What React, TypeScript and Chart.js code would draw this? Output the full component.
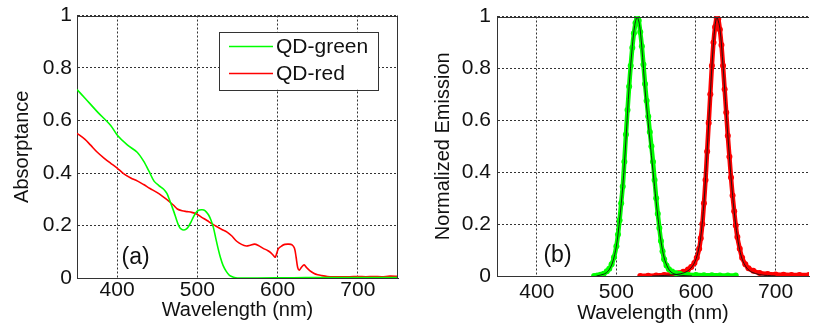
import React, { useEffect, useRef } from "react";
import { Chart, registerables } from "chart.js";

Chart.register(...registerables);

const FONT = "'Liberation Sans', Arial, Helvetica, sans-serif";

// ---------- Panel (a): absorptance ----------
const absGreenWavelength = [350, 360, 376, 392, 400, 413, 425, 433, 440, 446, 452, 458, 462, 465, 468, 471, 474, 477, 480, 483, 486, 489, 492, 495, 498, 501, 505, 508, 511, 514, 517, 520, 523, 526, 529, 532, 536, 540, 545, 550, 575, 620, 650, 700, 750];
const absGreenValue = [0.718, 0.685, 0.631, 0.581, 0.545, 0.506, 0.479, 0.445, 0.405, 0.369, 0.352, 0.338, 0.322, 0.300, 0.275, 0.250, 0.222, 0.198, 0.186, 0.183, 0.186, 0.196, 0.213, 0.232, 0.248, 0.257, 0.260, 0.259, 0.252, 0.240, 0.220, 0.192, 0.150, 0.110, 0.075, 0.048, 0.025, 0.010, 0.003, 0.000, 0.000, 0.001, 0.002, 0.002, 0.002];

const absRedWavelength = [350, 360, 367, 375, 384, 392, 400, 408, 417, 425, 433, 441, 450, 457, 464, 470, 475, 481, 487, 493, 499, 505, 512, 518, 524, 530, 537, 543, 549, 555, 561, 566, 571, 576, 582, 588, 592, 595, 597, 599, 601, 605, 609, 614, 618, 621, 623, 625, 627, 630, 633, 636, 640, 645, 650, 655, 662, 670, 680, 690, 700, 710, 720, 730, 740, 750];
const absRedValue = [0.551, 0.528, 0.506, 0.480, 0.456, 0.437, 0.419, 0.398, 0.381, 0.370, 0.356, 0.341, 0.325, 0.310, 0.294, 0.278, 0.263, 0.256, 0.253, 0.250, 0.244, 0.232, 0.219, 0.207, 0.196, 0.186, 0.175, 0.160, 0.140, 0.128, 0.122, 0.125, 0.129, 0.124, 0.113, 0.104, 0.095, 0.085, 0.079, 0.095, 0.112, 0.122, 0.128, 0.129, 0.126, 0.113, 0.080, 0.040, 0.030, 0.042, 0.050, 0.040, 0.028, 0.018, 0.012, 0.009, 0.006, 0.005, 0.005, 0.005, 0.006, 0.005, 0.006, 0.005, 0.007, 0.006];

// ---------- Panel (b): normalized emission ----------
const emGreenWavelength = [472, 476, 480, 484, 488, 491, 494, 497, 500, 502, 504, 506, 508, 510, 512, 514, 516, 518, 520, 522, 524, 526, 528, 530, 532, 534, 536, 538, 540, 542, 544, 546, 548, 550, 552, 554, 556, 558, 560, 563, 566, 570, 575, 580, 590, 600, 610, 620, 630, 640, 650];
const emGreenValue = [0.000, 0.002, 0.005, 0.009, 0.018, 0.028, 0.045, 0.072, 0.115, 0.160, 0.215, 0.280, 0.345, 0.440, 0.545, 0.640, 0.730, 0.810, 0.880, 0.935, 0.975, 0.998, 0.985, 0.940, 0.885, 0.815, 0.740, 0.675, 0.615, 0.555, 0.500, 0.440, 0.370, 0.300, 0.240, 0.185, 0.135, 0.095, 0.065, 0.040, 0.026, 0.017, 0.011, 0.008, 0.005, 0.004, 0.003, 0.003, 0.002, 0.002, 0.002];

const emRedWavelength = [530, 540, 550, 560, 570, 578, 584, 590, 594, 598, 601, 604, 606, 608, 610, 612, 614, 616, 618, 620, 622, 624, 626, 628, 630, 632, 634, 636, 638, 640, 642, 644, 646, 648, 650, 652, 655, 658, 662, 666, 672, 680, 690, 700, 710, 720, 730, 742];
const emRedValue = [0.000, 0.001, 0.002, 0.004, 0.007, 0.011, 0.016, 0.025, 0.035, 0.050, 0.070, 0.105, 0.145, 0.200, 0.280, 0.370, 0.480, 0.590, 0.700, 0.810, 0.900, 0.960, 0.995, 0.990, 0.950, 0.890, 0.810, 0.720, 0.630, 0.540, 0.460, 0.380, 0.310, 0.250, 0.195, 0.150, 0.105, 0.070, 0.045, 0.030, 0.020, 0.012, 0.008, 0.006, 0.005, 0.004, 0.004, 0.004];

const fitGreenWavelength = [475, 485, 490, 495, 500, 504, 508, 512, 516, 520, 523, 526, 529, 532, 536, 540, 544, 548, 552, 556, 560, 565, 570, 580, 595];
const fitGreenValue = [0.000, 0.008, 0.020, 0.050, 0.115, 0.215, 0.345, 0.525, 0.730, 0.885, 0.965, 0.998, 0.970, 0.880, 0.720, 0.590, 0.465, 0.345, 0.230, 0.135, 0.070, 0.030, 0.012, 0.003, 0.000];

const fitRedWavelength = [545, 560, 575, 585, 592, 598, 602, 606, 610, 614, 618, 622, 626, 630, 634, 638, 642, 646, 650, 654, 658, 664, 670, 680, 690, 700];
const fitRedValue = [0.000, 0.002, 0.006, 0.012, 0.025, 0.050, 0.085, 0.150, 0.280, 0.480, 0.700, 0.900, 0.998, 0.955, 0.810, 0.630, 0.460, 0.310, 0.195, 0.115, 0.065, 0.030, 0.015, 0.005, 0.002, 0.000];

// ---------- axes & labels ----------
const xTickValues = [400, 500, 600, 700];
const yTickValues = [0, 0.2, 0.4, 0.6, 0.8, 1];
const seriesNames = ["QD-green", "QD-red"];
const xTitle = "Wavelength (nm)";
const yTitleA = "Absorptance";
const yTitleB = "Normalized Emission";
const panelLabels = ["(a)", "(b)"];

const GREEN = "#00ff00";
const RED = "#ff0000";
const H = 329;

const pts = (xs: number[], ys: number[]) => xs.map((x, i) => ({ x, y: ys[i] }));

const decor = {
  id: "decor",
  afterDraw(chart: any, _args: any, opts: any) {
    const { ctx, chartArea: a } = chart;
    ctx.save();
    ctx.strokeStyle = "#333";
    ctx.lineWidth = 1;
    ctx.beginPath();
    ctx.moveTo(a.left, Math.round(a.top) + 0.5);
    ctx.lineTo(a.right, Math.round(a.top) + 0.5);
    if (opts.rightBorder) {
      ctx.moveTo(Math.round(a.right) - 0.5, a.top);
      ctx.lineTo(Math.round(a.right) - 0.5, a.bottom);
    }
    ctx.stroke();

    const xs = chart.scales.x;
    const ys = chart.scales.y;
    ctx.fillStyle = "#111";
    ctx.font = `23px ${FONT}`;
    ctx.textAlign = "center";
    ctx.textBaseline = "middle";
    ctx.fillText(opts.label, xs.getPixelForValue(opts.labelAt[0]), ys.getPixelForValue(opts.labelAt[1]));

    if (opts.legend) {
      const bx = a.right - 20 - 159;
      const by = a.top + 16;
      const bw = 159;
      const bh = 58;
      ctx.fillStyle = "#fff";
      ctx.fillRect(bx, by, bw, bh);
      ctx.strokeStyle = "#333";
      ctx.strokeRect(Math.round(bx) + 0.5, Math.round(by) + 0.5, bw, bh);
      const rows = [
        { name: seriesNames[0], color: GREEN, y: by + 15 },
        { name: seriesNames[1], color: RED, y: by + 42 },
      ];
      ctx.font = `21px ${FONT}`;
      ctx.textAlign = "left";
      ctx.textBaseline = "middle";
      rows.forEach((r) => {
        ctx.strokeStyle = r.color;
        ctx.lineWidth = 1.6;
        ctx.beginPath();
        ctx.moveTo(bx + 10, r.y);
        ctx.lineTo(bx + 54, r.y);
        ctx.stroke();
        ctx.fillStyle = "#111";
        ctx.fillText(r.name, bx + 57, r.y + 1);
      });
    }
    ctx.restore();
  },
};

function scales(p: {
  xMax: number;
  yTitle: string;
  yWidth: number;
  xHeight: number;
  yTitlePad: number;
  xTitlePad: number;
  xTickPad: number;
  yTickPad: number;
}) {
  const grid = { color: "#333", lineWidth: 1, drawTicks: false };
  const border = { display: true, color: "#333", width: 1, dash: [2, 2] };
  return {
    x: {
      type: "linear",
      min: 350,
      max: p.xMax,
      afterBuildTicks: (s: any) => {
        s.ticks = xTickValues.map((v) => ({ value: v }));
      },
      ticks: {
        color: "#111",
        font: { family: FONT, size: 21, lineHeight: 1 },
        padding: p.xTickPad,
        maxRotation: 0,
        autoSkip: false,
        callback: (v: any) => `${v}`,
      },
      grid,
      border,
      title: {
        display: true,
        text: xTitle,
        color: "#111",
        font: { family: FONT, size: 20, lineHeight: 1.2 },
        padding: { top: 0, bottom: p.xTitlePad },
      },
      afterFit: (s: any) => {
        s.height = p.xHeight;
      },
    },
    y: {
      type: "linear",
      min: 0,
      max: 1,
      afterBuildTicks: (s: any) => {
        s.ticks = yTickValues.map((v) => ({ value: v }));
      },
      ticks: {
        color: "#111",
        font: { family: FONT, size: 21, lineHeight: 1 },
        padding: p.yTickPad,
        autoSkip: false,
        callback: (v: any) => `${v}`,
      },
      grid,
      border,
      title: {
        display: true,
        text: p.yTitle,
        color: "#111",
        font: { family: FONT, size: 20, lineHeight: 1.2 },
        padding: { top: p.yTitlePad, bottom: 0 },
      },
      afterFit: (s: any) => {
        s.width = p.yWidth;
      },
    },
  };
}

function configA(): any {
  return {
    type: "scatter",
    data: {
      datasets: [
        { label: seriesNames[0], data: pts(absGreenWavelength, absGreenValue), showLine: true, borderColor: GREEN, borderWidth: 1.6, pointRadius: 0, fill: false, tension: 0.3 },
        { label: seriesNames[1], data: pts(absRedWavelength, absRedValue), showLine: true, borderColor: RED, borderWidth: 1.6, pointRadius: 0, fill: false, tension: 0.3 },
      ],
    },
    options: {
      responsive: false,
      animation: false,
      devicePixelRatio: 1,
      layout: { padding: { left: 0, top: 12, right: 12, bottom: 0 } },
      plugins: {
        legend: { display: false },
        tooltip: { enabled: false },
        decor: { rightBorder: true, label: panelLabels[0], labelAt: [423, 0.076], legend: true },
      },
      scales: scales({ xMax: 750, yTitle: yTitleA, yWidth: 77, xHeight: 51, yTitlePad: 10, xTitlePad: 7, xTickPad: 2, yTickPad: 5 }),
    },
    plugins: [decor],
  };
}

function configB(): any {
  return {
    type: "scatter",
    data: {
      datasets: [
        { label: "fit-green", data: pts(fitGreenWavelength, fitGreenValue), showLine: true, borderColor: "#111", borderWidth: 0.9, pointRadius: 0, fill: false, tension: 0.3 },
        { label: "fit-red", data: pts(fitRedWavelength, fitRedValue), showLine: true, borderColor: "#111", borderWidth: 0.9, pointRadius: 0, fill: false, tension: 0.3 },
        { label: seriesNames[0], data: pts(emGreenWavelength, emGreenValue), showLine: true, borderColor: GREEN, borderWidth: 4.5, pointRadius: 3, pointBackgroundColor: GREEN, pointBorderWidth: 0, fill: false, tension: 0.3 },
        { label: seriesNames[1], data: pts(emRedWavelength, emRedValue), showLine: true, borderColor: RED, borderWidth: 4.5, pointRadius: 3, pointBackgroundColor: RED, pointBorderWidth: 0, fill: false, tension: 0.3 },
      ],
    },
    options: {
      responsive: false,
      animation: false,
      devicePixelRatio: 1,
      layout: { padding: { left: 0, top: 11, right: 0, bottom: 0 } },
      plugins: {
        legend: { display: false },
        tooltip: { enabled: false },
        decor: { rightBorder: false, label: panelLabels[1], labelAt: [426, 0.079], legend: false },
      },
      scales: scales({ xMax: 742, yTitle: yTitleB, yWidth: 87, xHeight: 53, yTitlePad: 21, xTitlePad: 4, xTickPad: 6, yTickPad: 6 }),
    },
    plugins: [decor],
  };
}

function ChartCanvas({ make, left, width }: { make: () => any; left: number; width: number }) {
  const ref = useRef<HTMLCanvasElement>(null);
  useEffect(() => {
    const chart = new Chart(ref.current as HTMLCanvasElement, make());
    return () => chart.destroy();
  }, []);
  return (
    <canvas
      ref={ref}
      width={width}
      height={H}
      style={{ position: "absolute", left, top: 0, width, height: H, display: "block" }}
    />
  );
}

export default function App() {
  return (
    <div style={{ position: "fixed", left: 0, top: 0, width: 813, height: H, background: "#fff", overflow: "hidden" }}>
      <ChartCanvas make={configA} left={0} width={410} />
      <ChartCanvas make={configB} left={410} width={403} />
    </div>
  );
}
